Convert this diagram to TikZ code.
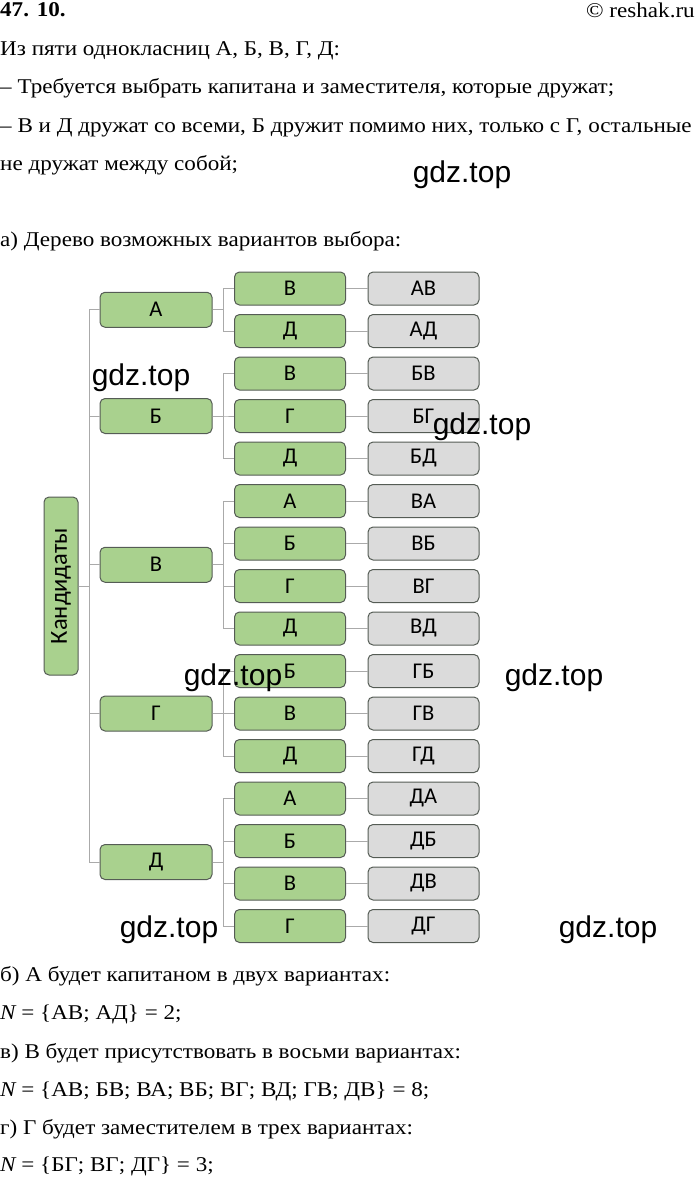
\documentclass[tikz,border=0pt]{standalone}
\usepackage{fontspec}
\setmainfont[FakeStretch=1.10]{Liberation Serif}
\newfontfamily\boxfont{Carlito}
\newfontfamily\wmfont{Liberation Sans}
\usepackage{tikz}

\definecolor{leafgreen}{RGB}{169,209,142}
\definecolor{pairgray}{RGB}{219,219,219}
\definecolor{edgegray}{RGB}{85,92,85}
\definecolor{linkgray}{RGB}{170,170,170}

\tikzset{
  grn/.style={draw=edgegray, fill=leafgreen, line width=1pt, rounded corners=5pt,
    minimum width=111pt, minimum height=33pt, inner sep=0pt,
    font=\boxfont\fontsize{22.5}{22.5}\selectfont},
  gry/.style={grn, fill=pairgray},
  lnk/.style={draw=linkgray, line width=1pt},
  txt/.style={anchor=base west, inner sep=0pt, font=\fontsize{21}{21}\selectfont},
  wm/.style={inner sep=0pt, font=\wmfont\fontsize{30}{30}\selectfont}
}

\begin{document}
\begin{tikzpicture}[x=1pt,y=-1pt]
\useasboundingbox (0,0) rectangle (695,1179);

% header
\node[txt, font=\bfseries\fontsize{21}{21}\selectfont] (nr) at (0,16) {47. 10.};
\node[txt, anchor=base east] (cr) at (695,17) {© reshak.ru};

% task text
\node[txt] (t1) at (0,55) {Из пяти однокласниц А, Б, В, Г, Д:};
\node[txt] (t2) at (0,93) {– Требуется выбрать капитана и заместителя, которые дружат;};
\node[txt] (t3) at (0,132) {– В и Д дружат со всеми, Б дружит помимо них, только с Г, остальные};
\node[txt] (t4) at (0,170) {не дружат между собой;};
\node[txt] (t5) at (0,246) {а) Дерево возможных вариантов выбора:};

% tree: root
\node[grn, rotate=90, minimum width=178pt, minimum height=34pt,
  font=\boxfont\fontsize{24.5}{24.5}\selectfont] (k) at (61,586) {Кандидаты};

% captains
\foreach \n/\l/\y in {a/А/309.75, b/Б/416, v/В/564.75, g/Г/713.5, d/Д/862} {
  \node[grn, minimum width=112pt, minimum height=35pt] (\n) at (156,\y) {\l};
  \draw[lnk] (k.south) -- ++(11,0) |- (\n.west);
}

% deputies and pairs
\foreach \r/\s/\p/\up in {1/В/АВ/a, 2/Д/АД/a, 3/В/БВ/b, 4/Г/БГ/b, 5/Д/БД/b,
    6/А/ВА/v, 7/Б/ВБ/v, 8/Г/ВГ/v, 9/Д/ВД/v, 10/Б/ГБ/g, 11/В/ГВ/g, 12/Д/ГД/g,
    13/А/ДА/d, 14/Б/ДБ/d, 15/В/ДВ/d, 16/Г/ДГ/d} {
  \node[grn] (s\r) at (290,{288.5+42.5*(\r-1)}) {\s};
  \node[gry] (p\r) at (423.5,{288.5+42.5*(\r-1)}) {\p};
  \draw[lnk] (\up.east) -- ++(11,0) |- (s\r.west);
  \draw[lnk] (s\r.east) -- (p\r.west);
}

% answers
\node[txt] (b1) at (0,981) {б) А будет капитаном в двух вариантах:};
\node[txt] (b2) at (0,1019) {{\itshape N} = \{АВ;\ АД\} = 2;};
\node[txt] (c1) at (0,1058) {в) В будет присутствовать в восьми вариантах:};
\node[txt] (c2) at (0,1096) {{\itshape N} = \{АВ;\ БВ;\ ВА;\ ВБ;\ ВГ;\ ВД;\ ГВ;\ ДВ\} = 8;};
\node[txt] (d1) at (0,1134) {г) Г будет заместителем в трех вариантах:};
\node[txt] (d2) at (0,1171) {{\itshape N} = \{БГ;\ ВГ;\ ДГ\} = 3;};

% watermarks
\foreach \x/\y [count=\i] in {462/175, 141/378, 482/427, 233/678, 554/678, 169/930, 608/930}
  \node[wm] (w\i) at (\x,\y) {gdz.top};
\end{tikzpicture}
\end{document}
